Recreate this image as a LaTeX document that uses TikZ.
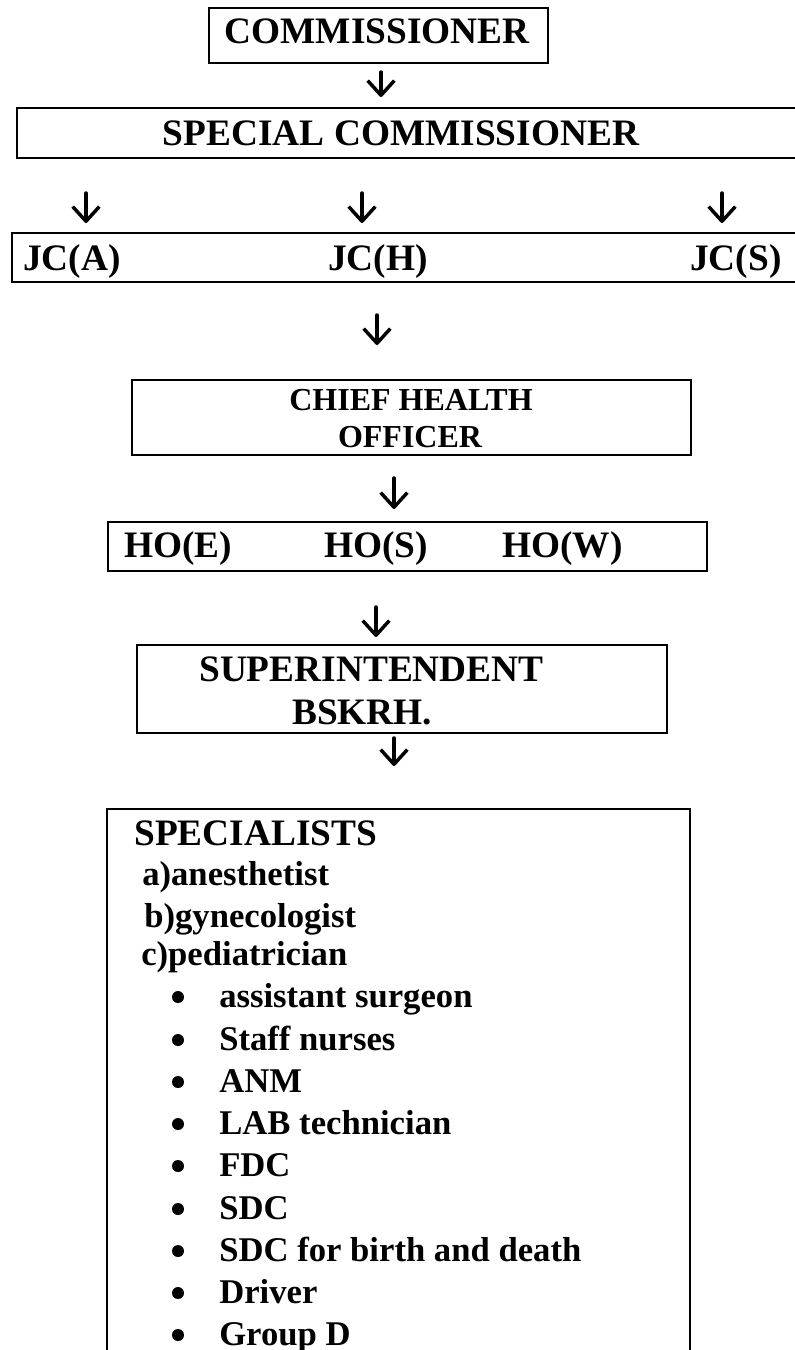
\documentclass[tikz,border=0pt]{standalone}
\usepackage{fontspec}
\setmainfont{Liberation Serif}
\usepackage{tikz}
\usetikzlibrary{arrows.meta}
\def\bigfont{\fontsize{28}{34}\selectfont\bfseries}
\def\midfont{\fontsize{24}{28}\selectfont\bfseries}
\def\smallfont{\fontsize{26}{31}\selectfont\bfseries}

\begin{document}
\begin{tikzpicture}[x=0.75pt, y=-0.75pt,
	box/.style={line width=2.2pt},
	down/.style={line width=2.6pt, line cap=round, -{Straight Barb[length=11pt, width=20pt, line join=round]}},
	big/.style={font=\bigfont, inner sep=0pt, anchor=base west},
	mid/.style={font=\midfont, inner sep=0pt, anchor=base},
	small/.style={font=\smallfont, inner sep=0pt, anchor=base west}]
			%%%%% START %%%%%
			\useasboundingbox (0, 0) rectangle (794, 1350);
			
			% commissioner
			\draw[box] (209, 8) rectangle (548, 63);
			\node[big, anchor=base] (comm) at (377, 43) {COMMISSIONER};
			\coordinate (c1a) at (381, 72);
			\coordinate (c1b) at (381, 97);
			\draw[down] (c1a) -- (c1b);
			
			\draw[box] (17, 108) rectangle (810, 158);
			\node[big, anchor=base] (spcomm) at (401, 145) {SPECIAL COMMISSIONER};
			
			% joint commissioners
			\coordinate (ja1) at (86, 193);  \coordinate (ja2) at (86, 223);
			\coordinate (jh1) at (362, 193); \coordinate (jh2) at (362, 223);
			\coordinate (js1) at (722, 193); \coordinate (js2) at (722, 223);
			\draw[down] (ja1) -- (ja2);
			\draw[down] (jh1) -- (jh2);
			\draw[down] (js1) -- (js2);
			
			\draw[box] (12, 233) rectangle (810, 282);
			\node[big] (jca) at (23, 270) {JC(A)};
			\node[big] (jch) at (328, 270) {JC(H)};
			\node[big] (jcs) at (690, 270) {JC(S)};
			
			\coordinate (c2a) at (377, 315);
			\coordinate (c2b) at (377, 345);
			\draw[down] (c2a) -- (c2b);
			
			% chief health officer
			\draw[box] (132, 380) rectangle (691, 455);
			\node[mid] (cho1) at (411, 410) {CHIEF HEALTH};
			\node[mid] (cho2) at (410, 447) {OFFICER};
			\coordinate (c3a) at (394, 478);
			\coordinate (c3b) at (394, 509);
			\draw[down] (c3a) -- (c3b);
			
			\draw[box] (108, 522) rectangle (707, 571);
			\node[big] (hoe) at (124, 557) {HO(E)};
			\node[big] (hos) at (324, 557) {HO(S)};
			\node[big] (how) at (502, 557) {HO(W)};
			
			\coordinate (c4a) at (376, 607);
			\coordinate (c4b) at (376, 637);
			\draw[down] (c4a) -- (c4b);
			
			% superintendent
			\draw[box] (137, 645) rectangle (667, 733);
			\node[big] (supt) at (199, 681) {SUPERINTENDENT};
			\node[big] (bskrh) at (292, 724) {BSKRH.};
			\coordinate (c5a) at (394, 738);
			\coordinate (c5b) at (394, 766);
			\draw[down] (c5a) -- (c5b);
			
			% staff list
			\draw[box] (107, 1370) -- (107, 809) -- (690, 809) -- (690, 1370);
			\node[big] (spec) at (134, 845) {SPECIALISTS};
			\node[small] (spa) at (142, 885) {a)anesthetist};
			\node[small] (spb) at (144, 927) {b)gynecologist};
			\node[small] (spc) at (141, 965) {c)pediatrician};
			
			\foreach \y/\name/\txt in {1007/st1/assistant surgeon, 1050/st2/Staff nurses,
				1092/st3/ANM, 1134/st4/LAB technician, 1176/st5/FDC, 1219/st6/SDC,
				1261/st7/SDC for birth and death, 1303/st8/Driver, 1345/st9/Group D}{
				\fill (178, \y-10) circle (6);
				\node[small] (\name) at (219, \y) {\txt};
			}
			%%%%% END %%%%%
\end{tikzpicture}
\end{document}
